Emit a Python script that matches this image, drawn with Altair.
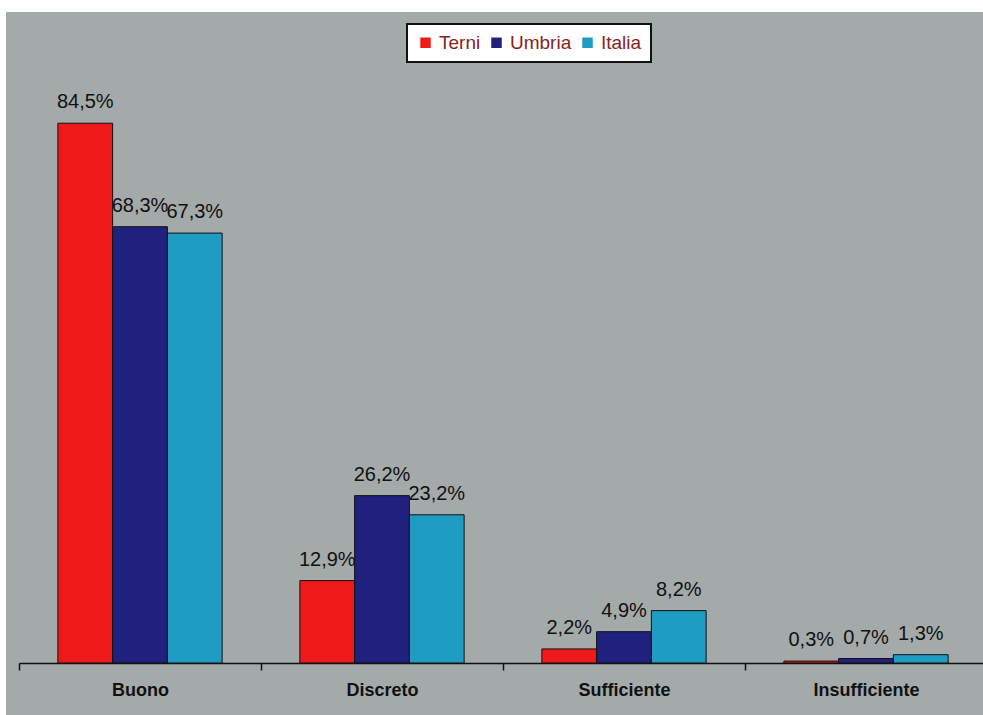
import altair as alt
import pandas as pd

# Giudizio espresso: Terni, Umbria, Italia (valori percentuali)
categories = ["Buono", "Discreto", "Sufficiente", "Insufficiente"]
series = ["Terni", "Umbria", "Italia"]
terni = [84.5, 12.9, 2.2, 0.3]
umbria = [68.3, 26.2, 4.9, 0.7]
italia = [67.3, 23.2, 8.2, 1.3]
colors = ["#ee1a1a", "#20207e", "#1e9cc2"]

rows = []
for name, vals in zip(series, [terni, umbria, italia]):
    for cat, v in zip(categories, vals):
        rows.append({
            "categoria": cat,
            "area": name,
            "valore": v,
            "etichetta": f"{v:.1f}".replace(".", ",") + "%",
        })
df = pd.DataFrame(rows)

W, H = 964, 649
GRAY = "#a4a9a9"

x = alt.X("categoria:N", sort=categories, title=None,
          scale=alt.Scale(paddingInner=0, paddingOuter=0, range=[0, 968]),
          axis=alt.Axis(labelAngle=0, tickBand="extent", domainColor="#111111",
                        domainWidth=1.5, tickColor="#111111", tickWidth=1.5,
                        tickSize=7, labelPadding=11, labelFontSize=18,
                        labelFontWeight="bold", labelColor="#111111",
                        labelFont="Liberation Sans"))
xo = alt.XOffset("area:N", sort=series,
                 scale=alt.Scale(paddingInner=0, paddingOuter=0.71))
y = alt.Y("valore:Q", scale=alt.Scale(domain=[0, 101.6], nice=False, zero=True),
          axis=None)
color = alt.Color("area:N", sort=series,
                  scale=alt.Scale(domain=series, range=colors),
                  legend=alt.Legend(title=None, orient="none", direction="horizontal",
                                    legendX=388, legendY=10, symbolType="square",
                                    symbolSize=110, symbolStrokeWidth=0,
                                    labelColor="#8a2222", labelFontSize=19,
                                    labelFont="Liberation Sans", columnPadding=6,
                                    symbolOffset=0, labelOffset=4,
                                    padding=9, fillColor="white",
                                    strokeColor="#111111"))

bars = alt.Chart(df).mark_bar(stroke="#111111", strokeWidth=1).encode(
    x=x, xOffset=xo, y=y, color=color
)

labels = alt.Chart(df).mark_text(
    baseline="alphabetic", dy=-15, fontSize=20, font="Liberation Sans",
    color="#111111"
).encode(x=x, xOffset=xo, y=y, text="etichetta:N")

# white border of the scanned page (top and left edges)
frame = pd.DataFrame({"k": [0]})
top_strip = alt.Chart(frame).mark_rect(color="white").encode(
    x=alt.value(-19), x2=alt.value(W + 19), y=alt.value(-14), y2=alt.value(-2)
)
left_strip = alt.Chart(frame).mark_rect(color="white").encode(
    x=alt.value(-19), x2=alt.value(-13), y=alt.value(-14), y2=alt.value(H + 52)
)

chart = alt.layer(bars, labels, top_strip, left_strip).properties(
    width=W, height=H,
    padding={"left": 19, "top": 14, "right": 0, "bottom": 52},
    autosize=alt.AutoSizeParams(type="none"),
    background=GRAY,
).configure_view(stroke=None).configure_legend(strokeWidth=2)

chart.save("out.html", embed_options={"renderer": "svg", "actions": False})
